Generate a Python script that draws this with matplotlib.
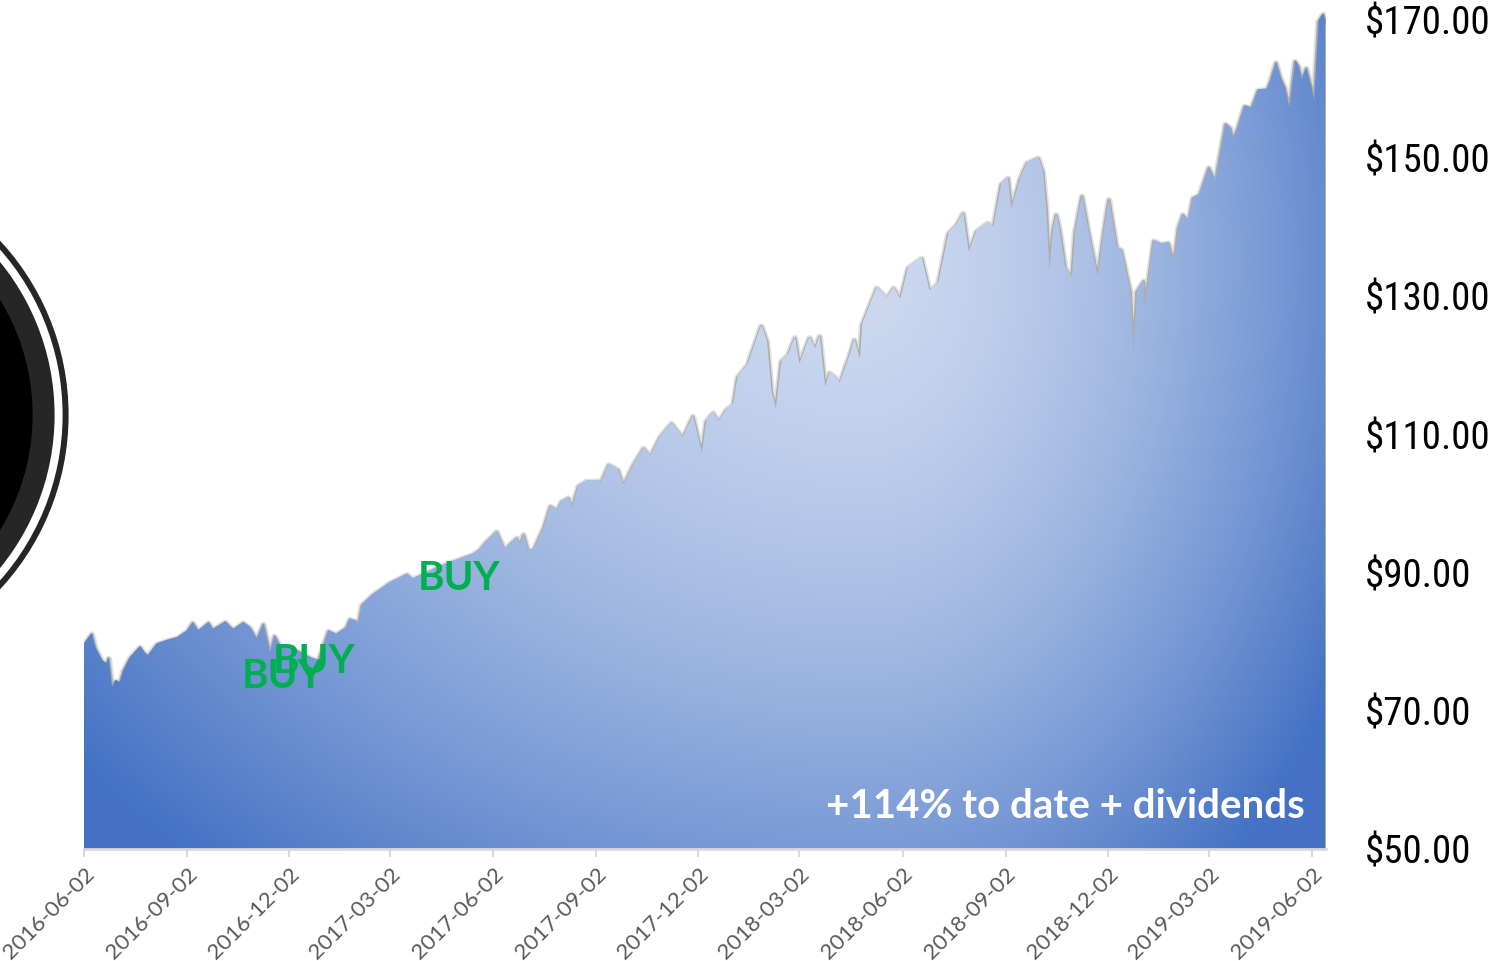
import numpy as np
import pandas as pd
import matplotlib
matplotlib.use("Agg")
import matplotlib.pyplot as plt
import matplotlib.dates as mdates
from matplotlib.patches import Circle
from matplotlib import font_manager

# price readings, days counted from the first date
start_date = "2016-06-02"
day_offsets = [
    0, 7, 10, 16, 20, 22, 25, 28, 32, 35, 41, 50, 54, 57, 65, 74, 83, 92, 97, 102,
    111, 115, 126, 133, 142, 148, 154, 160, 166, 170, 175, 188, 202, 209, 218, 225,
    234, 237, 243, 244, 248, 258, 267, 273, 282, 288, 293, 317, 338, 347, 353, 358,
    368, 375, 380, 386, 389, 392, 396, 401, 410, 416, 422, 426, 432, 435, 441, 448,
    459, 460, 468, 476, 481, 490, 499, 505, 514, 524, 534, 543, 551, 555, 561, 566,
    573, 579, 583, 592, 597, 604, 609, 613, 617, 622, 628, 634, 638, 647, 652, 656,
    661, 665, 670, 674, 683, 687, 692, 694, 707, 716, 722, 728, 735, 747, 754, 762,
    771, 778, 784, 789, 796, 806, 811, 818, 824, 827, 835, 841, 851, 855, 858, 861,
    864, 867, 870, 875, 881, 884, 890, 896, 904, 910, 914, 921, 925, 933, 936, 939,
    945, 946, 954, 961, 967, 972, 976, 980, 985, 989, 995, 1003, 1009, 1018, 1022,
    1025, 1029, 1035, 1041, 1047, 1055, 1058, 1063, 1067, 1071, 1075, 1080, 1083,
    1086, 1090, 1095, 1097, 1101, 1105, 1107,
]
prices = [
    79.8, 81.3, 79.3, 77.4, 76.9, 77.8, 73.5, 74.5, 74.2, 75.9, 77.8, 79.4, 78.5, 78.1,
    79.8, 80.3, 80.7, 81.7, 82.9, 81.7, 82.9, 81.9, 83.0, 81.9, 82.9, 82.2, 80.5, 82.7,
    78.5, 81.0, 79.5, 79.0, 77.8, 77.4, 81.7, 81.2, 82.2, 83.4, 83.1, 82.2, 85.5, 87.0,
    88.0, 88.7, 89.4, 89.9, 89.2, 91.0, 92.3, 92.8, 93.5, 94.5, 96.1, 93.5, 94.3, 95.2,
    94.2, 95.7, 93.4, 93.5, 96.7, 99.8, 99.2, 100.5, 101.0, 99.4, 102.7, 103.4, 103.4,
    102.9, 105.8, 105.1, 102.8, 105.8, 108.2, 107.0, 109.9, 111.8, 109.7, 112.8, 107.4,
    112.1, 113.3, 112.0, 113.8, 114.5, 118.5, 120.3, 122.7, 125.9, 123.7, 116.4, 113.8,
    120.8, 121.7, 124.2, 120.3, 124.2, 122.5, 124.4, 116.9, 119.1, 118.4, 117.6, 121.7,
    123.9, 121.0, 126.1, 131.4, 129.9, 131.4, 129.7, 134.3, 135.7, 130.9, 132.1, 139.3,
    140.5, 142.2, 136.5, 139.6, 140.8, 140.1, 146.4, 147.3, 142.7, 147.3, 149.5, 150.2,
    148.3, 143.0, 133.8, 139.7, 142.0, 139.8, 134.3, 132.9, 139.6, 144.7, 139.3, 132.9,
    140.1, 144.2, 137.2, 136.9, 130.9, 121.7, 130.9, 132.4, 128.3, 138.2, 137.7, 137.9,
    135.0, 140.1, 142.0, 141.1, 144.4, 144.9, 148.8, 146.8, 155.1, 154.6, 152.9, 154.6,
    157.7, 157.4, 160.0, 160.1, 161.3, 164.0, 161.8, 160.3, 157.4, 164.2, 163.5, 161.5,
    163.2, 160.1, 158.4, 170.0, 171.0, 170.0,
]

# buy signals (day offset, price where the label sits)
buy_days = [141, 168, 298]
buy_prices = [73.3, 75.5, 87.5]
note = "+114% to date + dividends"
y_ticks = [50, 70, 90, 110, 130, 150, 170]

W, H = 1494, 961
fig = plt.figure(figsize=(W / 100, H / 100), dpi=100)
fig.patch.set_facecolor("white")

# axes placed in pixels
px_left, px_right, px_bottom, px_top = 84, 1326, 849, 6.2
ax = fig.add_axes([px_left / W, 1 - px_bottom / H,
                   (px_right - px_left) / W, (px_bottom - px_top) / H])

start = pd.Timestamp(start_date)
dates = start + pd.to_timedelta(day_offsets, unit="D")
x = mdates.date2num(dates)
y = np.array(prices)
x0 = mdates.date2num(start)
x1 = x0 + 1107.6
ymin, ymax = 50, 172

# soft grey shadow along the top edge
ax.plot(x, y - 0.3, color="#8a8a8a", lw=5, alpha=0.25, zorder=1)
ax.plot(x, y - 0.3, color="#6e6e6e", lw=2.6, alpha=0.45, zorder=1)
ax.plot([x[-1], x[-1]], [ymin, y[-1]], color="#a0a0a0", lw=2, alpha=0.6, zorder=1)
ax.plot([x[0], x[0]], [ymin, y[0]], color="#b0b0b0", lw=1.5, alpha=0.6, zorder=1)

poly = ax.fill_between(x, ymin, y, facecolor="none", edgecolor="none", zorder=2)

# radial gradient fill clipped to the area (light centre, darker towards the corners)
nx, ny = 500, 350
gx = np.linspace(px_left, px_right, nx)
gy = np.linspace(px_top, px_bottom, ny)
GX, GY = np.meshgrid(gx, gy)
cx_g, cy_g = 860, 260
rx = np.where(GX < cx_g, 1000, 560)
t = np.sqrt(((GX - cx_g) / rx) ** 2 + ((GY - cy_g) / 800) ** 2)
t = np.clip(t, 0, 1) ** 1.6
light = np.array([0.80, 0.85, 0.94])
dark = np.array([0.267, 0.447, 0.769])
rgb = light[None, None, :] * (1 - t[..., None]) + dark[None, None, :] * t[..., None]
im = ax.imshow(rgb, extent=[x0, x1, ymin, ymax], origin="upper",
               aspect="auto", zorder=2, interpolation="bilinear")
im.set_clip_path(poly.get_paths()[0], transform=ax.transData)

ax.set_xlim(x0, x1)
ax.set_ylim(ymin, ymax)

# pick a narrow face for the price labels when one is installed
names = {f.name for f in font_manager.fontManager.ttflist}
cond_dejavu = any("Condensed" in f.fname and "DejaVuSans" in f.fname
                  for f in font_manager.fontManager.ttflist)
if "Liberation Sans Narrow" in names:
    yfont, ystretch, ysize = "Liberation Sans Narrow", "normal", 28
elif "Roboto Condensed" in names:
    yfont, ystretch, ysize = "Roboto Condensed", "normal", 28
elif cond_dejavu:
    yfont, ystretch, ysize = "DejaVu Sans", "condensed", 24.5
else:
    yfont, ystretch, ysize = "Roboto", "normal", 25

# x axis
ax.xaxis.set_major_locator(mdates.MonthLocator(bymonth=[3, 6, 9, 12], bymonthday=2))
ax.xaxis.set_major_formatter(mdates.DateFormatter("%Y-%m-%d"))
ax.tick_params(axis="x", colors="#d9d9d9", length=6, width=1.5, pad=5)
for lab in ax.get_xticklabels():
    lab.set_rotation(45)
    lab.set_ha("right")
    lab.set_va("top")
    lab.set_rotation_mode("anchor")
    lab.set_color("#595959")
    lab.set_fontsize(16)
    lab.set_family("Lato")

# y axis on the right
ax.yaxis.tick_right()
ax.set_yticks(y_ticks)
ax.set_yticklabels(["${:.2f}".format(v) for v in y_ticks],
                   fontsize=ysize, family=yfont, fontstretch=ystretch, color="black")
ax.tick_params(axis="y", length=0, pad=28)

for s in ["top", "left", "right"]:
    ax.spines[s].set_visible(False)
ax.spines["bottom"].set_color("#d9d9d9")
ax.spines["bottom"].set_linewidth(2)
ax.set_facecolor("none")

for d, p in zip(buy_days, buy_prices):
    ax.text(x0 + d, p, "BUY", color="#00b050", fontsize=29, fontweight="bold",
            family="Lato", ha="left", va="baseline", zorder=5)

ax.text(0.983, 0.037, note, transform=ax.transAxes, color="white", fontsize=29,
        fontweight="bold", family="Lato", ha="right", va="baseline", zorder=5)

# cropped round logo on the left
cx, cy = -1.874, (H - 415) / 100
for r, c in [(2.56, "#262626"), (2.50, "white"), (2.42, "#262626"), (2.20, "black")]:
    fig.patches.append(Circle((cx, cy), r, transform=fig.dpi_scale_trans,
                              facecolor=c, edgecolor="none"))

fig.savefig("out.png", dpi=100)
